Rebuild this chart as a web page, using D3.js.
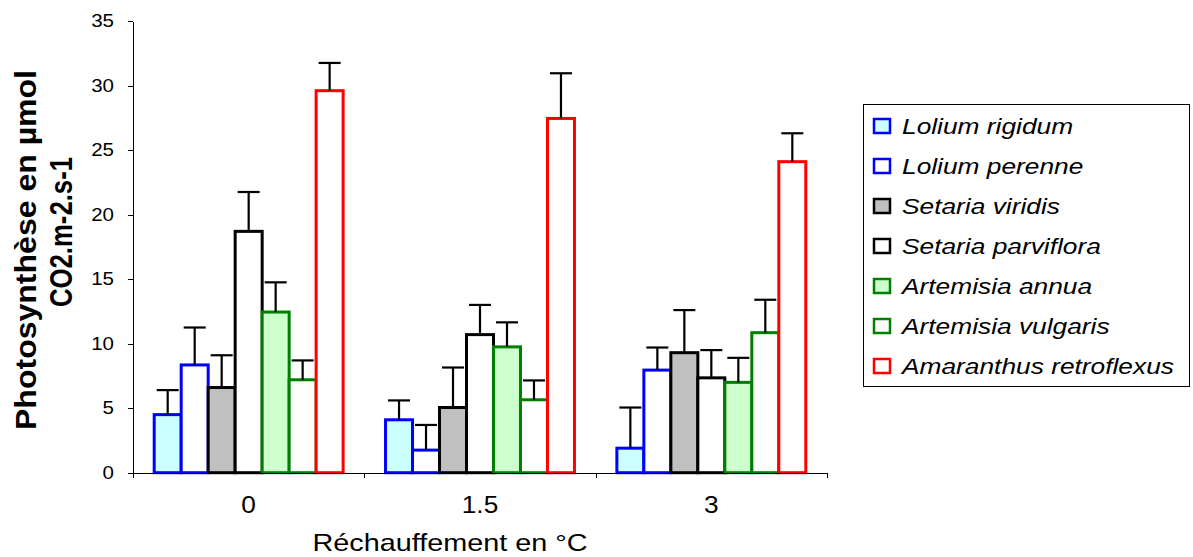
<!DOCTYPE html>
<html>
<head>
<meta charset="utf-8">
<script src="https://cdn.jsdelivr.net/npm/d3@7"></script>
<style>
  html, body { margin: 0; padding: 0; background: #fff; }
  svg { display: block; font-family: Arial, "Liberation Sans", sans-serif; }
</style>
</head>
<body>
<svg id="chart" width="1193" height="557"></svg>
<script>
// Warming levels (°C) on the x axis
const warming = ["0", "1.5", "3"];

// Species, in drawing order
const species = [
  "Lolium rigidum",
  "Lolium perenne",
  "Setaria viridis",
  "Setaria parviflora",
  "Artemisia annua",
  "Artemisia vulgaris",
  "Amaranthus retroflexus"
];

// Mean photosynthesis (µmol CO2.m-2.s-1) per species, one array per warming level
const means0  = [4.5, 8.35, 6.6, 18.7, 12.45, 7.2, 29.6];
const means15 = [4.1, 1.75, 5.05, 10.7, 9.75, 5.65, 27.45];
const means3  = [1.9, 7.95, 9.3, 7.35, 7.0, 10.85, 24.1];

// Upper error (standard error) per species, one array per warming level
const errs0  = [1.9, 2.9, 2.5, 3.05, 2.3, 1.5, 2.15];
const errs15 = [1.5, 1.95, 3.1, 2.3, 1.9, 1.5, 3.5];
const errs3  = [3.15, 1.75, 3.3, 2.15, 1.9, 2.55, 2.2];

// Y axis ticks
const yTicks = [0, 5, 10, 15, 20, 25, 30, 35];

// Series styling
const fills   = ["#CCFFFF", "#FFFFFF", "#C0C0C0", "#FFFFFF", "#CCFFCC", "#FFFFFF", "#FFFFFF"];
const strokes = ["#0000FF", "#0000FF", "#000000", "#000000", "#008000", "#008000", "#FF0000"];

const meansByLevel = [means0, means15, means3];
const errsByLevel = [errs0, errs15, errs3];

const rows = [];
warming.forEach((w, gi) => {
  species.forEach((s, si) => {
    rows.push({ level: w, species: s, si, mean: meansByLevel[gi][si], err: errsByLevel[gi][si] });
  });
});

const svg = d3.select("#chart");

const plot = { left: 133, right: 827, top: 21, bottom: 472.7 };
const sx = 1.14; // horizontal text stretch

const x0 = d3.scaleBand().domain(warming).range([plot.left, plot.right]).padding(0);
const x1 = d3.scaleBand().domain(species).range([21.2, x0.bandwidth() - 21.2]).padding(0);
const y = d3.scaleLinear().domain([0, 35]).range([plot.bottom, plot.top]);

// Bars
const barG = svg.append("g");
barG.selectAll("rect.bar")
  .data(rows)
  .join("rect")
  .attr("class", "bar")
  .attr("x", d => x0(d.level) + x1(d.species))
  .attr("y", d => y(d.mean))
  .attr("width", x1.bandwidth())
  .attr("height", d => y(0) - y(d.mean))
  .attr("fill", d => fills[d.si])
  .attr("stroke", d => strokes[d.si])
  .attr("stroke-width", 3);

// Error bars (upper only)
const errG = svg.append("g").attr("stroke", "#000").attr("stroke-width", 2.2);
const capHalf = 11;
rows.forEach(d => {
  const cx = x0(d.level) + x1(d.species) + x1.bandwidth() / 2;
  errG.append("line")
    .attr("x1", cx).attr("x2", cx)
    .attr("y1", y(d.mean)).attr("y2", y(d.mean + d.err));
  errG.append("line")
    .attr("x1", cx - capHalf).attr("x2", cx + capHalf)
    .attr("y1", y(d.mean + d.err)).attr("y2", y(d.mean + d.err));
});

// Y axis
const yAxis = svg.append("g")
  .attr("transform", `translate(${plot.left},0)`)
  .call(d3.axisLeft(y).tickValues(yTicks).tickSize(5).tickSizeOuter(0));
yAxis.select(".domain").attr("stroke", "#000").attr("shape-rendering", "crispEdges");
yAxis.selectAll(".tick line").attr("stroke", "#000").attr("shape-rendering", "crispEdges");
yAxis.selectAll(".tick text")
  .attr("font-size", 18)
  .attr("fill", "#000")
  .attr("font-family", "Arial, 'Liberation Sans', sans-serif")
  .attr("x", -19 / sx)
  .attr("transform", `scale(${sx},1)`);

// X axis: ticks at group boundaries
const xb = d3.scaleLinear().domain([0, warming.length]).range([plot.left, plot.right]);
const xAxis = svg.append("g")
  .attr("transform", `translate(0,${plot.bottom})`)
  .call(d3.axisBottom(xb).tickValues(d3.range(warming.length + 1)).tickSize(5).tickSizeOuter(0).tickFormat(""));
xAxis.select(".domain").attr("stroke", "#000").attr("shape-rendering", "crispEdges");
xAxis.selectAll(".tick line").attr("stroke", "#000").attr("shape-rendering", "crispEdges");

// Category labels under each group
svg.append("g").selectAll("text")
  .data(warming)
  .join("text")
  .attr("transform", d => `translate(${x0(d) + x0.bandwidth() / 2},513) scale(${sx},1)`)
  .attr("text-anchor", "middle")
  .attr("font-size", 23)
  .attr("fill", "#000")
  .text(d => d);

// X axis title
svg.append("text")
  .attr("transform", `translate(450,551) scale(1.2,1)`)
  .attr("text-anchor", "middle")
  .attr("font-size", 24)
  .attr("fill", "#000")
  .text("Réchauffement en °C");

// Y axis title (two lines, bold)
svg.append("text")
  .attr("transform", "translate(36,250) rotate(-90) scale(1,1.1)")
  .attr("text-anchor", "middle")
  .attr("font-size", 27)
  .attr("font-weight", "bold")
  .attr("textLength", 360)
  .attr("lengthAdjust", "spacingAndGlyphs")
  .attr("fill", "#000")
  .text("Photosynthèse en µmol");
svg.append("text")
  .attr("transform", "translate(72,232) rotate(-90) scale(1,1.15)")
  .attr("text-anchor", "middle")
  .attr("font-size", 28)
  .attr("font-weight", "bold")
  .attr("textLength", 150)
  .attr("lengthAdjust", "spacingAndGlyphs")
  .attr("fill", "#000")
  .text("CO2.m-2.s-1");

// Legend
const legend = svg.append("g");
legend.append("rect")
  .attr("x", 863.5).attr("y", 104.5)
  .attr("width", 326).attr("height", 282)
  .attr("fill", "#fff")
  .attr("stroke", "#000")
  .attr("stroke-width", 1);

const items = legend.selectAll("g.item")
  .data(species)
  .join("g")
  .attr("class", "item")
  .attr("transform", (d, i) => `translate(0,${126 + i * 40})`);

items.append("rect")
  .attr("x", 874).attr("y", -7)
  .attr("width", 16).attr("height", 14)
  .attr("fill", (d, i) => fills[i])
  .attr("stroke", (d, i) => strokes[i])
  .attr("stroke-width", 2.5);

items.append("text")
  .attr("transform", `translate(902,8) scale(1.17,1)`)
  .attr("font-size", 22.5)
  .attr("font-style", "italic")
  .attr("fill", "#000")
  .text(d => d);
</script>
</body>
</html>
